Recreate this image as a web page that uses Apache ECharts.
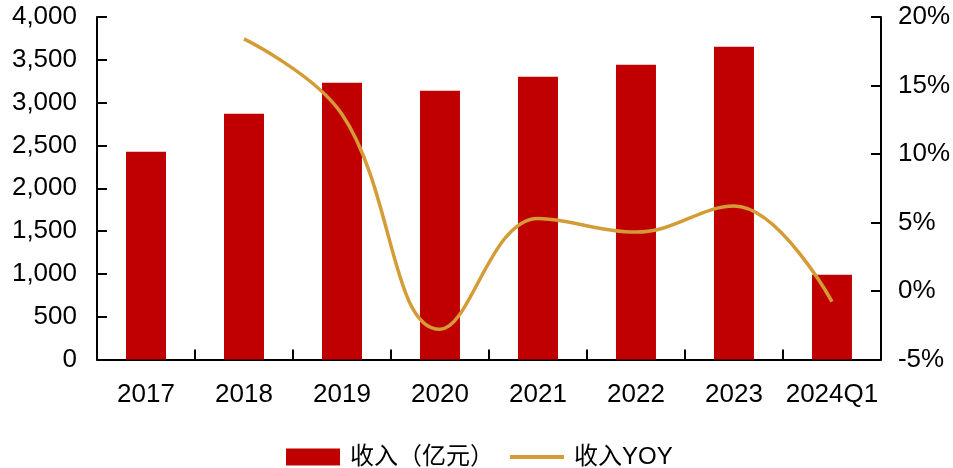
<!DOCTYPE html>
<html>
<head>
<meta charset="utf-8">
<script src="https://cdn.jsdelivr.net/npm/echarts@6/dist/echarts.min.js"></script>
<style>
  html, body { margin: 0; padding: 0; background: #fff; }
  #chart { width: 953px; height: 468px; }
</style>
</head>
<body>
<div id="chart"></div>
<script>
// Categories and series values
const categories = ['2017', '2018', '2019', '2020', '2021', '2022', '2023', '2024Q1'];
const revenue = [2425, 2870, 3232, 3138, 3302, 3442, 3653, 991];          // 收入（亿元）
const revenueYoy = [null, 18.4, 12.9, -2.8, 5.3, 4.3, 6.2, -0.77];       // 收入YOY, %

const leftTicks = { min: 0, max: 4000, interval: 500 };
const rightTicks = { min: -5, max: 20, interval: 5 };

const FONT = '"Liberation Sans", Arial, "Noto Sans CJK SC", sans-serif';
const BAR_COLOR = '#C00000';
const LINE_COLOR = '#D39C36';

const chart = echarts.init(document.getElementById('chart'), null, { renderer: 'canvas' });

const axisText = { color: '#000', fontSize: 26, fontFamily: FONT };
const blackLine = { show: true, lineStyle: { color: '#000', width: 2 } };
const innerTick = { show: true, inside: true, length: 10, lineStyle: { color: '#000', width: 2 } };

chart.setOption({
  animation: false,
  grid: { left: 97, right: 71, top: 17, bottom: 108.5, containLabel: false },
  legend: {
    left: 281,
    top: 439,
    itemWidth: 54,
    itemHeight: 17,
    itemGap: 16,
    textStyle: { color: '#000', fontSize: 24, lineHeight: 26, fontFamily: FONT, padding: [0, 0, 0, 5] },
    data: [
      { name: '收入（亿元）', icon: 'rect' },
      { name: '收入YOY', icon: 'path://M0,0 L56,0 L56,4 L0,4 Z' }
    ]
  },
  xAxis: {
    type: 'category',
    data: categories,
    boundaryGap: true,
    axisLine: blackLine,
    axisTick: innerTick,
    axisLabel: Object.assign({ margin: 22, interval: 0 }, axisText),
    splitLine: { show: false }
  },
  yAxis: [
    {
      type: 'value',
      min: leftTicks.min, max: leftTicks.max, interval: leftTicks.interval,
      axisLine: blackLine,
      axisTick: innerTick,
      axisLabel: Object.assign({
        margin: 20,
        formatter: v => v.toLocaleString('en-US')
      }, axisText),
      splitLine: { show: false }
    },
    {
      type: 'value',
      min: rightTicks.min, max: rightTicks.max, interval: rightTicks.interval,
      position: 'right',
      axisLine: blackLine,
      axisTick: innerTick,
      axisLabel: Object.assign({ margin: 17, formatter: v => v + '%' }, axisText),
      splitLine: { show: false }
    }
  ],
  series: [
    {
      name: '收入（亿元）',
      type: 'bar',
      data: revenue,
      barWidth: 40,
      itemStyle: { color: BAR_COLOR },
      yAxisIndex: 0
    },
    {
      name: '收入YOY',
      type: 'line',
      data: revenueYoy,
      yAxisIndex: 1,
      smooth: 0.4,
      symbol: 'none',
      connectNulls: false,
      lineStyle: { color: LINE_COLOR, width: 3.5 },
      itemStyle: { color: LINE_COLOR }
    }
  ]
});
</script>
</body>
</html>
